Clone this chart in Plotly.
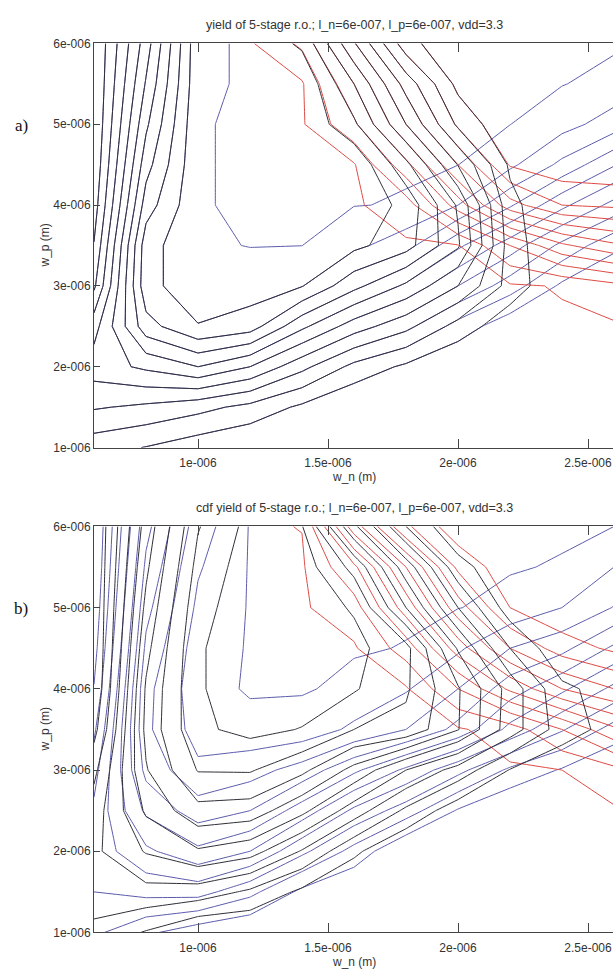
import plotly.graph_objects as go

# Sample grid (micrometres)
w_n_um = [0.6, 0.8, 1.0, 1.2, 1.4, 1.6, 1.8, 2.0, 2.2, 2.4, 2.6]
w_p_um = [1.0, 1.5, 2.0, 2.5, 3.0, 3.5, 4.0, 4.5, 5.0, 5.5, 6.0]

# (a) yields in percent, one row per w_p value (bottom row first)
freq_yield_a = [
    [14, 9.6, 4, 0, 0, 0, 0, 0, 0, 0, 0],
    [31, 28, 23.3, 17, 8, 0, 0, 0, 0, 0, 0],
    [45, 52, 60, 50, 32.9, 17, 8, 0, 0, 0, 0],
    [36, 76, 89.5, 85, 62.3, 45, 33, 16, 3, 0, 0],
    [18, 87, 96, 95, 90.5, 73, 58, 40, 25, 8, 0],
    [10.5, 86, 98, 99.2, 99.05, 92.5, 84.1, 62, 45, 27.5, 12.4],
    [5, 75, 98.5, 100, 100, 99.2, 98.6, 90, 71.3, 52.5, 36.7],
    [2, 66, 98.5, 100, 100, 100, 99.6, 99.1, 92.3, 77.5, 60.9],
    [0.5, 58, 98.5, 100, 100, 100, 100, 100, 99.1, 93.8, 85.2],
    [0, 51, 97.5, 100, 100, 100, 100, 100, 100, 99.3, 96.5],
    [0, 45, 97.5, 100, 100, 100, 100, 100, 100, 100, 100],
]
power_yield_a = [
    [100, 100, 100, 100, 100, 100, 100, 100, 100, 100, 100],
    [100, 100, 100, 100, 100, 100, 100, 100, 100, 100, 100],
    [100, 100, 100, 100, 100, 100, 100, 100, 100, 100, 100],
    [100, 100, 100, 100, 100, 100, 100, 100, 100, 100, 100],
    [100, 100, 100, 100, 100, 100, 100, 100, 100, 98.5, 93],
    [100, 100, 100, 100, 100, 100, 100, 99.5, 80, 62, 52],
    [100, 100, 100, 100, 100, 100, 95, 65, 34, 20, 18],
    [100, 100, 100, 100, 100, 99.8, 73, 40, 9, 3, 2],
    [100, 100, 100, 100, 100, 82, 50, 18, 1, 0, 0],
    [100, 100, 100, 100, 100, 70, 36, 7, 0, 0, 0],
    [100, 100, 100, 100, 88, 51, 14, 0.5, 0, 0, 0],
]
total_yield_a = [
    [14, 9.6, 4, 0, 0, 0, 0, 0, 0, 0, 0],
    [31, 28, 23.3, 17, 8, 0, 0, 0, 0, 0, 0],
    [45, 52, 60, 50, 32.9, 17, 8, 0, 0, 0, 0],
    [36, 76, 89.5, 85, 62.3, 45, 33, 16, 3, 0, 0],
    [18, 87, 96, 95, 90.5, 73, 58, 40, 16, 0.5, 0],
    [10.5, 86, 98, 98.8, 98.5, 92.5, 84.1, 61.5, 15, 0, 0],
    [5, 75, 98.5, 98.8, 98.8, 98, 87, 58.7, 13, 0, 0],
    [2, 66, 98.5, 98.8, 98.8, 98.6, 72.7, 39.6, 8.3, 0.4, 0],
    [0.5, 58, 98.5, 98.8, 98.8, 82, 50, 18, 1, 0, 0],
    [0, 51, 97.5, 98.8, 98.8, 70, 36, 7, 0, 0, 0],
    [0, 45, 97.5, 98.8, 88, 51, 14, 0.5, 0, 0, 0],
]

# (b) cdf-based yields in percent
freq_yield_b = [
    [22, 12, 4, 0, 0, 0, 0, 0, 0, 0, 0],
    [30, 33, 34, 23, 7.5, 0, 0, 0, 0, 0, 0],
    [34, 48, 57.7, 50, 32.5, 16.5, 0, 0, 0, 0, 0],
    [32, 62, 75.3, 70, 55.5, 38, 25, 9, 0, 0, 0],
    [26, 73, 88, 84, 76, 62, 48, 33, 18, 9, 0],
    [18, 78, 94, 96.5, 96, 88, 80, 67, 47, 31, 16],
    [10.5, 77, 96, 99.8, 99.6, 97.5, 91, 80, 65, 52, 37.5],
    [6, 72, 95, 99.6, 100, 99.5, 98.8, 91.6, 80, 73, 58],
    [3, 67, 92, 99.6, 100, 100, 99.8, 99.2, 97, 90, 79.5],
    [1, 62, 89, 99.6, 100, 100, 100, 100, 99.5, 98.5, 90],
    [0, 57, 85, 99.5, 100, 100, 100, 100, 100, 100, 99],
]
power_yield_b = [
    [100, 100, 100, 100, 100, 100, 100, 100, 100, 100, 100],
    [100, 100, 100, 100, 100, 100, 100, 100, 100, 100, 100],
    [100, 100, 100, 100, 100, 100, 100, 100, 100, 100, 100],
    [100, 100, 100, 100, 100, 100, 100, 100, 100, 100, 100],
    [100, 100, 100, 100, 100, 100, 100, 100, 100, 99, 93],
    [100, 100, 100, 100, 100, 100, 100, 100, 95, 80, 62],
    [100, 100, 100, 100, 100, 100, 100, 80, 58, 40, 30],
    [100, 100, 100, 100, 100, 100, 85.5, 55, 30, 15, 8],
    [100, 100, 100, 100, 100, 94, 65.4, 34.6, 10, 2, 0],
    [100, 100, 100, 100, 100, 82, 50, 18, 3, 0, 0],
    [100, 100, 100, 100, 98.8, 54.8, 22, 3, 0, 0, 0],
]
cdf_yield_b = [
    [17, 9.2, 0, 0, 0, 0, 0, 0, 0, 0, 0],
    [26, 26.9, 25.4, 18.3, 7.9, 0, 0, 0, 0, 0, 0],
    [28, 40.8, 48.8, 44, 29.2, 12, 0, 0, 0, 0, 0],
    [25, 51.5, 67, 65.5, 52.5, 35, 18, 4, 0, 0, 0],
    [17.3, 59.2, 80.6, 80.9, 72.3, 57, 40, 26, 9.5, 2, 0],
    [6.4, 62.5, 88.3, 92.6, 89.6, 80, 77, 60.5, 35, 15, 6],
    [0.9, 61.2, 89, 95.5, 95.5, 91, 81.5, 61, 36, 12, 6],
    [0, 57, 89, 95.5, 95.5, 93, 83, 49, 20, 2, 0],
    [0, 52.4, 86.8, 95.5, 95.5, 89, 60, 30, 5, 0, 0],
    [0, 48, 83.3, 95, 95, 77, 45, 14, 1, 0, 0],
    [0, 43.9, 79.3, 93, 90.5, 52, 20, 1, 0, 0, 0],
]

x_tickvals = [1e-6, 1.5e-6, 2e-6, 2.5e-6]
x_ticktext = ["1e-006", "1.5e-006", "2e-006", "2.5e-006"]
y_tickvals = [1e-6, 2e-6, 3e-6, 4e-6, 5e-6, 6e-6]
y_ticktext = ["1e-006", "2e-006", "3e-006", "4e-006", "5e-006", "6e-006"]

titles = [
    "yield of 5-stage r.o.; l_n=6e-007, l_p=6e-007, vdd=3.3",
    "cdf yield of 5-stage r.o.; l_n=6e-007, l_p=6e-007, vdd=3.3",
]

BLACK = "#2e2e38"
BLUE = "#5b5bab"
RED = "#dc4a44"

W, H = 613, 973
PLOT_L, PLOT_R = 94, 613
PANELS = [(37, 447), (527, 939)]   # top/bottom pixel rows of each plot area
X_RANGE = [0.6e-6, (0.6 + (PLOT_R - PLOT_L) / 260.0) * 1e-6]

wn = [v * 1e-6 for v in w_n_um]
wp = [v * 1e-6 for v in w_p_um]


def px_to_paper_y(py):
    return (H - py) / H


def level_traces(z, color, with_99, xa, ya):
    specs = [dict(start=10, end=90, size=10)]
    if with_99:
        specs.append(dict(start=99, end=99.5, size=10))
    out = []
    for spec in specs:
        out.append(go.Contour(
            x=wn, y=wp, z=z,
            autocontour=False,
            contours=dict(coloring="lines", showlabels=False, **spec),
            colorscale=[[0, color], [1, color]],
            line=dict(width=1, smoothing=0),
            showscale=False, hoverinfo="skip",
            xaxis=xa, yaxis=ya,
        ))
    return out


fig = go.Figure()
data_sets = [
    (freq_yield_a, power_yield_a, total_yield_a),
    (freq_yield_b, power_yield_b, cdf_yield_b),
]
axis_names = [("x", "y"), ("x2", "y2")]
for (freq, power, total), (xa, ya) in zip(data_sets, axis_names):
    for tr in level_traces(freq, BLUE, True, xa, ya):
        fig.add_trace(tr)
    for tr in level_traces(power, RED, True, xa, ya):
        fig.add_trace(tr)
    for tr in level_traces(total, BLACK, False, xa, ya):
        fig.add_trace(tr)

tick_font = dict(family="Liberation Sans, Arial, sans-serif", size=12, color="#333")
title_font = dict(family="Liberation Sans, Arial, sans-serif", size=12.5, color="#333")
axis_common = dict(showgrid=False, zeroline=False, showline=True,
                   linecolor="#444", linewidth=1, ticks="inside",
                   tickcolor="#444", tickfont=tick_font)

layout = dict(
    width=W, height=H, margin=dict(l=0, r=0, t=0, b=0),
    paper_bgcolor="white", plot_bgcolor="white", showlegend=False,
)
annotations = []
for i, (ptop, pbot) in enumerate(PANELS):
    n = "" if i == 0 else str(i + 1)
    ydom = [px_to_paper_y(pbot), px_to_paper_y(ptop)]
    layout["xaxis" + n] = dict(axis_common, domain=[PLOT_L / W, PLOT_R / W],
                               range=X_RANGE, tickvals=x_tickvals,
                               ticktext=x_ticktext, ticklen=9, mirror="ticks",
                               ticklabelstandoff=4, anchor="y" + n)
    layout["yaxis" + n] = dict(axis_common, domain=ydom, range=[1e-6, 6e-6],
                               tickvals=y_tickvals, ticktext=y_ticktext,
                               ticklen=6, anchor="x" + n)
    # right-hand tick marks without a frame line
    rn = str(3 + i * 2)
    layout["yaxis" + rn] = dict(domain=ydom, range=[1e-6, 6e-6], overlaying="y" + n,
                                side="right", anchor="x" + n, showgrid=False,
                                zeroline=False, showline=False, ticks="inside",
                                ticklen=6, tickcolor="#444", tickvals=y_tickvals,
                                showticklabels=False)
    annotations.append(dict(text=titles[i], x=354 / W, y=px_to_paper_y(ptop - 19),
                            xref="paper", yref="paper", showarrow=False,
                            font=title_font, xanchor="center", yanchor="middle"))
    annotations.append(dict(text="w_n (m)", x=354 / W, y=px_to_paper_y(pbot + 30),
                            xref="paper", yref="paper", showarrow=False,
                            font=tick_font, xanchor="center", yanchor="middle"))
    annotations.append(dict(text="w_p (m)", x=45 / W, y=px_to_paper_y((ptop + pbot) / 2),
                            xref="paper", yref="paper", showarrow=False, textangle=-90,
                            font=tick_font, xanchor="center", yanchor="middle"))
    annotations.append(dict(text=["a)", "b)"][i], x=21 / W,
                            y=px_to_paper_y(ptop + 83),
                            xref="paper", yref="paper", showarrow=False,
                            font=dict(family="Liberation Serif, Times New Roman, serif",
                                      size=17, color="#111"),
                            xanchor="center", yanchor="middle"))
layout["annotations"] = annotations
fig.update_layout(**layout)

fig.write_html("out.html")
